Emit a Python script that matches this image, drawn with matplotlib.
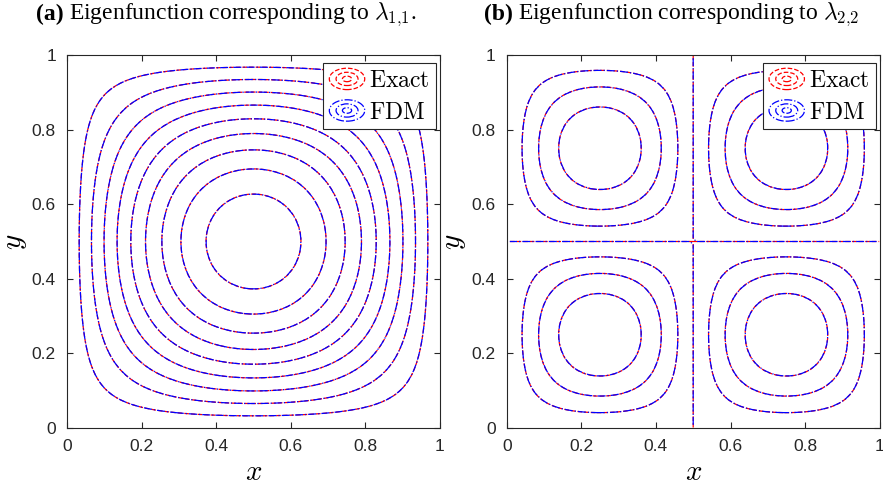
import numpy as np
import matplotlib
matplotlib.use("Agg")
import matplotlib.pyplot as plt
from matplotlib.legend_handler import HandlerBase
from matplotlib.lines import Line2D
from matplotlib.patches import Ellipse

plt.rcParams["mathtext.fontset"] = "cm"
plt.rcParams["font.family"] = ["Liberation Sans", "DejaVu Sans"]

# contour levels (relative to the discrete peak value)
peak = 0.977
levels_11 = [0.1, 0.2, 0.3, 0.4, 0.5, 0.6, 0.7, 0.8, 0.9]
levels_22 = [-0.75, -0.5, -0.25, 0.0, 0.25, 0.5, 0.75]
modes = [(1, 1), (2, 2)]
titles = [("(a)", r"Eigenfunction corresponding to $\lambda_{1{,}1}$."),
          ("(b)", r"Eigenfunction corresponding to $\lambda_{2{,}2}$")]
ticks = [0, 0.2, 0.4, 0.6, 0.8, 1]
tick_labels = ["0", "0.2", "0.4", "0.6", "0.8", "1"]
n_fine = 400
n_fdm = 60


def eigfun(m, n, x, y):
    return peak * np.sin(m * np.pi * x) * np.sin(n * np.pi * y)


class ContourIcon(HandlerBase):
    """Legend icon made of concentric ellipses, like a contour plot."""
    def create_artists(self, legend, orig_handle, xdescent, ydescent,
                       width, height, fontsize, trans):
        cx = 0.5 * width - xdescent
        cy = 0.5 * height - ydescent
        out = []
        for s in (1.0, 0.62, 0.26):
            e = Ellipse((cx, cy), width * s, height * 1.05 * s, fill=False,
                        edgecolor=orig_handle.get_color(),
                        linestyle=orig_handle.get_linestyle(), lw=0.9)
            e.set_transform(trans)
            out.append(e)
        return out


fig = plt.figure(figsize=(8.83, 4.9), dpi=100)
ax_a = fig.add_axes([67 / 883, 62 / 490, 373 / 883, 373 / 490])
ax_b = fig.add_axes([506.7 / 883, 62 / 490, 373 / 883, 373 / 490])

# cell-centred grids so the zero level never sits exactly on a node
xf = (np.arange(n_fine) + 0.5) / n_fine
xc = (np.arange(n_fdm) + 0.5) / n_fdm
Xf, Yf = np.meshgrid(xf, xf)
Xc, Yc = np.meshgrid(xc, xc)

for ax, (m, n), levels in zip([ax_a, ax_b], modes, [levels_11, levels_22]):
    ax.contour(Xf, Yf, eigfun(m, n, Xf, Yf), levels=levels, colors="red",
               linestyles="--", linewidths=0.9)
    ax.contour(Xc, Yc, eigfun(m, n, Xc, Yc), levels=levels, colors="blue",
               linestyles="-.", linewidths=0.9)

    ax.set_xlim(0, 1)
    ax.set_ylim(0, 1)
    ax.set_xticks(ticks)
    ax.set_xticklabels(tick_labels)
    ax.set_yticks(ticks)
    ax.set_yticklabels(tick_labels)
    ax.tick_params(direction="in", length=4, width=0.8, top=True, right=True,
                   labelsize=12.5, pad=8, colors="#262626")
    for sp in ax.spines.values():
        sp.set_color("#262626")
        sp.set_linewidth(0.8)
    ax.set_xlabel(r"$x$", fontsize=21, va="center")
    ax.set_ylabel(r"$y$", fontsize=21, va="center")
    ax.xaxis.set_label_coords(0.5, -0.118)
    ax.yaxis.set_label_coords(-0.14, 0.5)

    handles = [Line2D([], [], color="red", linestyle="--"),
               Line2D([], [], color="blue", linestyle="-.")]
    leg = ax.legend(handles, [r"$\mathrm{Exact}$", r"$\mathrm{FDM}$"],
                    handler_map={Line2D: ContourIcon()},
                    loc="upper right", bbox_to_anchor=(0.989, 0.979),
                    borderaxespad=0, fontsize=17, handlelength=1.5,
                    handleheight=0.95, handletextpad=0.2, labelspacing=0.35,
                    borderpad=0.25, fancybox=False, framealpha=1)
    leg.get_frame().set_edgecolor("#262626")
    leg.get_frame().set_linewidth(0.8)

# subcaptions: bold tag followed by regular text
fig.canvas.draw()
renderer = fig.canvas.get_renderer()
for x0, (tag, text) in zip([36, 484], titles):
    t = fig.text(x0 / 883, 1 - 14 / 490, tag, fontsize=17, fontweight="bold",
                 family="Liberation Serif", va="center", ha="left")
    bb = t.get_window_extent(renderer)
    fig.text((bb.x1 + 5) / 883, 1 - 14 / 490, text, fontsize=17,
             family="Liberation Serif", va="center", ha="left")

fig.savefig("out.png", dpi=100)
